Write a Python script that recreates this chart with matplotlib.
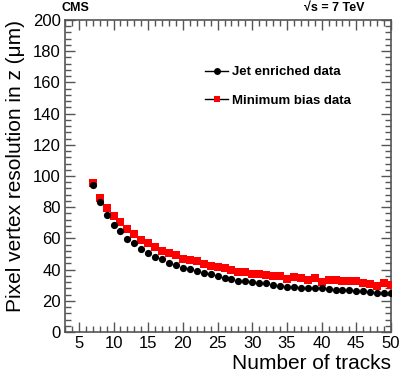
import matplotlib
matplotlib.use("Agg")
import matplotlib.pyplot as plt
from matplotlib.ticker import MultipleLocator
from matplotlib.lines import Line2D

n_tracks = list(range(7, 51))
jet_res = [94.3, 83.6, 75.3, 68.7, 64.5, 59.6, 57.2, 53.2, 50.9, 48.1,
           46.6, 44.3, 43.0, 40.9, 40.2, 39.4, 37.9, 37.0, 36.2, 34.3,
           34.0, 33.0, 32.6, 31.9, 31.5, 31.1, 30.2, 29.6, 28.9, 28.7,
           28.5, 28.1, 28.1, 27.9, 27.4, 27.2, 27.0, 26.8, 26.0, 26.2,
           25.5, 24.9, 25.3, 24.7]
minbias_res = [95.7, 86.2, 79.4, 74.5, 70.2, 66.0, 62.8, 59.1, 56.8, 54.7,
               51.9, 50.6, 49.4, 46.8, 46.0, 45.3, 43.6, 42.3, 41.9, 41.1,
               39.8, 38.7, 38.7, 37.4, 37.2, 36.8, 36.2, 36.0, 34.0, 35.1,
               34.3, 33.6, 34.5, 32.3, 33.6, 33.4, 32.8, 32.8, 32.6, 31.3,
               30.9, 29.4, 31.1, 30.0]

plt.rcParams['font.family'] = ['Liberation Sans', 'DejaVu Sans']

fig = plt.figure(figsize=(3.99, 3.83), dpi=100)
ax = fig.add_axes([65/399, 1-332/383, (391-65)/399, (332-20)/383])

ax.plot(n_tracks, minbias_res, 's', color='#ff0000', markersize=5.2, markeredgewidth=0, zorder=3)
ax.plot(n_tracks, jet_res, 'o', color='black', markersize=5.2, markeredgewidth=0, zorder=4)

ax.set_xlim(3, 50)
ax.set_ylim(0, 200)
ax.xaxis.set_major_locator(MultipleLocator(5))
ax.xaxis.set_minor_locator(MultipleLocator(1))
ax.yaxis.set_major_locator(MultipleLocator(20))
ax.yaxis.set_minor_locator(MultipleLocator(4))
ax.tick_params(which='both', direction='in', top=True, right=True, color='#555555')
ax.tick_params(which='major', length=7, width=1, labelsize=12, pad=3)
ax.tick_params(which='minor', length=4, width=1)
for s in ax.spines.values():
    s.set_color('#555555')
    s.set_linewidth(1.2)

ax.set_xlabel('Number of tracks', fontsize=15, loc='right', labelpad=2)
ax.set_ylabel('Pixel vertex resolution in z (\u03bcm)', fontsize=15, loc='top', labelpad=6)

fig.text(62/399, 1-8/383, 'CMS', fontsize=9, fontweight='bold', va='center', ha='left')
fig.text(365/399, 1-8/383, '\u221as = 7 TeV', fontsize=9, fontweight='bold', va='center', ha='right')

h1 = Line2D([0], [0], color='black', lw=1, marker='o', markersize=5, markeredgewidth=0)
h2 = Line2D([0], [0], color='black', lw=1, marker='s', markersize=5,
            markerfacecolor='#ff0000', markeredgewidth=0)
leg = ax.legend([h1, h2], ['Jet enriched data', 'Minimum bias data'],
                loc='upper left', bbox_to_anchor=((205-65)/326, (332-66)/312),
                borderaxespad=0, borderpad=0,
                frameon=False, handlelength=1.75, handletextpad=0.3,
                labelspacing=1.25, prop={'weight': 'bold', 'size': 9.5})

fig.savefig('out.png', dpi=100)
